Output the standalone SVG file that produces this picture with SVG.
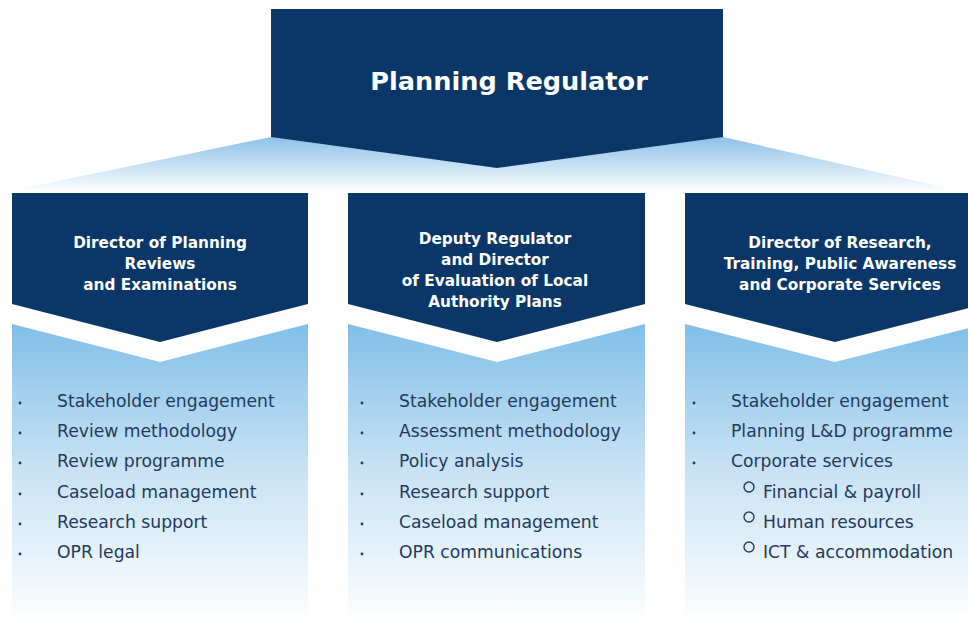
<svg xmlns="http://www.w3.org/2000/svg" width="968" height="632" viewBox="0 0 968 632">
<defs>
<linearGradient id="fanGrad" x1="0" y1="137" x2="0" y2="192" gradientUnits="userSpaceOnUse">
<stop offset="0" stop-color="#8cc1e7"/>
<stop offset="1" stop-color="#ffffff"/>
</linearGradient>
<linearGradient id="bodyGrad" x1="0" y1="324" x2="0" y2="625" gradientUnits="userSpaceOnUse">
<stop offset="0" stop-color="#80bfe8"/>
<stop offset="0.45" stop-color="#c4e0f3"/>
<stop offset="1" stop-color="#ffffff"/>
</linearGradient>
<style>
.navy{fill:#0a3767}
.body{fill:url(#bodyGrad)}
.title{font-family:"DejaVu Sans","Liberation Sans",sans-serif;font-weight:bold;fill:#ffffff;text-anchor:middle}
.head{font-family:"DejaVu Sans","Liberation Sans",sans-serif;font-weight:bold;font-size:15.3px;fill:#ffffff;text-anchor:middle}
.item{font-family:"DejaVu Sans","Liberation Sans",sans-serif;font-size:17.2px;fill:#23395d}
.dot{fill:#23395d}
.ring{fill:none;stroke:#23395d;stroke-width:1.4}
</style>
</defs>
<rect width="968" height="632" fill="#ffffff"/>
<g id="connectors">
<polygon points="271,137 723,137 960,191 10,191" fill="url(#fanGrad)"/>
</g>
<g id="planning-regulator">
<polygon class="navy" points="271,9 723,9 723,137 497,168 271,137"/>
<text class="title" x="509" y="90" font-size="25.6">Planning Regulator</text>
</g>
<g id="director-reviews">
<polygon class="navy" points="12,193 308,193 308,304 160,342 12,304"/>
<text class="head"><tspan x="160" y="248">Director of Planning</tspan><tspan x="160" y="269">Reviews</tspan><tspan x="160" y="290">and Examinations</tspan></text>
</g>
<g id="director-reviews-duties">
<polygon class="body" points="12,324 160,362 308,324 308,625 12,625"/>
<circle class="dot" cx="20" cy="403" r="1.4"/>
<circle class="dot" cx="20" cy="433" r="1.4"/>
<circle class="dot" cx="20" cy="463" r="1.4"/>
<circle class="dot" cx="20" cy="494" r="1.4"/>
<circle class="dot" cx="20" cy="524" r="1.4"/>
<circle class="dot" cx="20" cy="554" r="1.4"/>
<text class="item" x="57" y="407">Stakeholder engagement</text>
<text class="item" x="57" y="437">Review methodology</text>
<text class="item" x="57" y="467">Review programme</text>
<text class="item" x="57" y="498">Caseload management</text>
<text class="item" x="57" y="528">Research support</text>
<text class="item" x="57" y="558">OPR legal</text>
</g>
<g id="deputy-regulator">
<polygon class="navy" points="348,193 645,193 645,304 497,342 348,304"/>
<text class="head"><tspan x="495" y="244">Deputy Regulator</tspan><tspan x="495" y="265">and Director</tspan><tspan x="495" y="286">of Evaluation of Local</tspan><tspan x="495" y="307">Authority Plans</tspan></text>
</g>
<g id="deputy-regulator-duties">
<polygon class="body" points="348,324 497,362 645,324 645,625 348,625"/>
<circle class="dot" cx="362" cy="403" r="1.4"/>
<circle class="dot" cx="362" cy="433" r="1.4"/>
<circle class="dot" cx="362" cy="463" r="1.4"/>
<circle class="dot" cx="362" cy="494" r="1.4"/>
<circle class="dot" cx="362" cy="524" r="1.4"/>
<circle class="dot" cx="362" cy="554" r="1.4"/>
<text class="item" x="399" y="407">Stakeholder engagement</text>
<text class="item" x="399" y="437">Assessment methodology</text>
<text class="item" x="399" y="467">Policy analysis</text>
<text class="item" x="399" y="498">Research support</text>
<text class="item" x="399" y="528">Caseload management</text>
<text class="item" x="399" y="558">OPR communications</text>
</g>
<g id="director-research">
<polygon class="navy" points="685,193 985,193 985,304 835,342 685,304"/>
<text class="head"><tspan x="840" y="248">Director of Research,</tspan><tspan x="840" y="269">Training, Public Awareness</tspan><tspan x="840" y="290">and Corporate Services</tspan></text>
</g>
<g id="director-research-duties">
<polygon class="body" points="685,324 835,362 985,324 985,625 685,625"/>
<circle class="dot" cx="694" cy="403" r="1.4"/>
<circle class="dot" cx="694" cy="433" r="1.4"/>
<circle class="dot" cx="694" cy="463" r="1.4"/>
<text class="item" x="731" y="407">Stakeholder engagement</text>
<text class="item" x="731" y="437">Planning L&amp;D programme</text>
<text class="item" x="731" y="467">Corporate services</text>
<circle class="ring" cx="749" cy="487" r="5"/>
<circle class="ring" cx="749" cy="517" r="5"/>
<circle class="ring" cx="749" cy="547" r="5"/>
<text class="item" x="763" y="498">Financial &amp; payroll</text>
<text class="item" x="763" y="528">Human resources</text>
<text class="item" x="763" y="558">ICT &amp; accommodation</text>
</g>
</svg>
